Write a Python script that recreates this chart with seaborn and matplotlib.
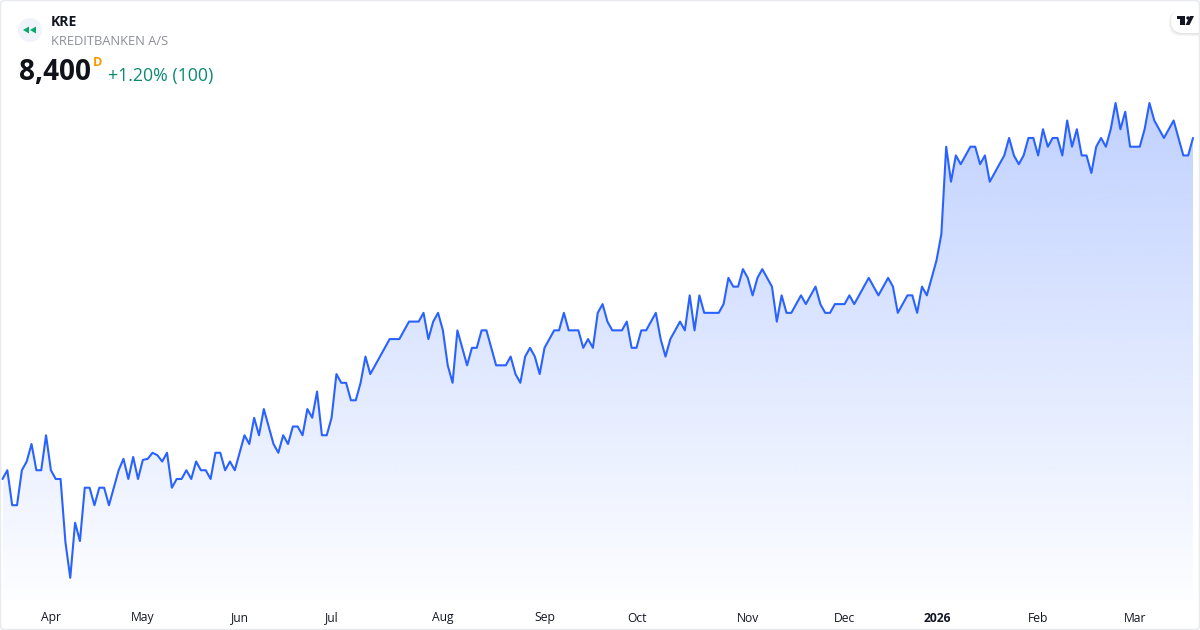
import numpy as np
import pandas as pd
import seaborn as sns
import matplotlib.pyplot as plt
from matplotlib.colors import LinearSegmentedColormap
from matplotlib.patches import Circle, FancyBboxPatch, Polygon, Rectangle

ticker = "KRE"
company = "KREDITBANKEN A/S"
last_price = "8,400"
change_text = "+1.20% (100)"

# daily closes
prices = [
    6450, 6500, 6300, 6300, 6500, 6550, 6650, 6500, 6500, 6700, 6500, 6450, 6450, 6090, 5885, 6200,
    6095, 6400, 6400, 6300, 6400, 6400, 6300, 6400, 6500, 6565, 6450, 6576, 6450, 6559, 6565, 6600,
    6586, 6550, 6600, 6400, 6450, 6450, 6500, 6450, 6550, 6500, 6500, 6450, 6600, 6600, 6500, 6550,
    6500, 6600, 6700, 6650, 6800, 6700, 6850, 6750, 6650, 6600, 6700, 6650, 6750, 6750, 6700, 6850,
    6800, 6950, 6700, 6700, 6800, 7050, 7000, 7000, 6900, 6900, 7000, 7150, 7050, 7100, 7150, 7200,
    7250, 7250, 7250, 7300, 7350, 7350, 7350, 7400, 7250, 7350, 7400, 7300, 7100, 7000, 7300, 7200,
    7100, 7200, 7200, 7300, 7300, 7200, 7100, 7100, 7100, 7150, 7050, 7000, 7150, 7200, 7150, 7050,
    7200, 7250, 7300, 7300, 7400, 7300, 7300, 7300, 7200, 7250, 7200, 7400, 7450, 7350, 7300, 7300,
    7300, 7350, 7200, 7200, 7300, 7300, 7350, 7400, 7250, 7150, 7250, 7300, 7350, 7300, 7500, 7300,
    7500, 7400, 7400, 7400, 7400, 7450, 7600, 7550, 7550, 7650, 7600, 7500, 7600, 7650, 7600, 7550,
    7350, 7500, 7400, 7400, 7450, 7500, 7450, 7500, 7550, 7450, 7400, 7400, 7450, 7450, 7450, 7500,
    7450, 7500, 7550, 7600, 7550, 7500, 7550, 7600, 7550, 7400, 7450, 7500, 7500, 7400, 7550, 7500,
    7600, 7700, 7850, 8350, 8150, 8300, 8250, 8300, 8350, 8350, 8250, 8300, 8150, 8200, 8250, 8300,
    8400, 8300, 8250, 8300, 8400, 8400, 8300, 8450, 8350, 8400, 8400, 8300, 8500, 8350, 8450, 8300,
    8300, 8200, 8350, 8400, 8350, 8450, 8600, 8450, 8550, 8350, 8350, 8350, 8450, 8600, 8500, 8450,
    8400, 8450, 8500, 8400, 8300, 8300, 8400,
]
month_labels = ["Apr", "May", "Jun", "Jul", "Aug", "Sep", "Oct", "Nov", "Dec", "2026", "Feb", "Mar"]
month_sessions = [10, 29, 49, 68, 91, 112, 131, 154, 174, 193, 214, 234]

W, H = 1200, 630
BLUE = "#2962FF"
Y_LOW, Y_HIGH = 5758, 8600

sns.set_theme(style="white")
plt.rcParams["font.family"] = ["Open Sans", "DejaVu Sans"]

df = pd.DataFrame({"session": np.arange(len(prices)), "close": prices})

fig = plt.figure(figsize=(W / 100, H / 100), dpi=100, facecolor="white")

# price pane, pixel box: x 2.5-1193, y 103-600
ax = fig.add_axes([2.5 / W, (H - 600) / H, 1190.5 / W, 497 / H])
ax.set_facecolor("none")
ax.set_xlim(0, len(prices) - 1)
ax.set_ylim(Y_LOW, Y_HIGH)

# gradient under the line, clipped to the area
area = ax.fill_between(df["session"], df["close"], Y_LOW, color="none", lw=0)
cmap = LinearSegmentedColormap.from_list("fade", [(41 / 255, 98 / 255, 1, 0.01), (41 / 255, 98 / 255, 1, 0.29)])
grad = ax.imshow(np.linspace(0, 1, 256).reshape(-1, 1), origin="lower", aspect="auto", cmap=cmap,
                 extent=[0, len(prices) - 1, Y_LOW, Y_HIGH], zorder=1)
grad.set_clip_path(area.get_paths()[0], transform=ax.transData)

sns.lineplot(data=df, x="session", y="close", ax=ax, color=BLUE, linewidth=1.5, zorder=2,
             solid_joinstyle="round", clip_on=False)
ax.set_axis_off()

# overlay in pixel coordinates for header, labels and frame
ov = fig.add_axes([0, 0, 1, 1], zorder=5)
ov.set_xlim(0, W)
ov.set_ylim(H, 0)
ov.set_axis_off()
ov.patch.set_alpha(0)

# session marker
ov.add_patch(Circle((30, 30), 12, fc="#F0F3FA", ec="none"))
ov.add_patch(Polygon([[23, 30], [29, 26.5], [29, 33.5]], fc="#0BA86B", ec="none"))
ov.add_patch(Polygon([[30, 30], [36, 26.5], [36, 33.5]], fc="#0BA86B", ec="none"))

ov.text(51, 22, ticker, fontsize=10.1, fontweight="bold", color="#131722", va="center", ha="left")
ov.text(51, 41.5, company, fontsize=9.25, color="#8C8F98", va="center", ha="left")
ov.text(19, 73, last_price, fontsize=20.1, fontweight="bold", color="#0F1218", va="center", ha="left")
ov.text(93, 62, "D", fontsize=9.2, fontweight="bold", color="#FF9800", va="center", ha="left")
ov.text(108, 76.5, change_text, fontsize=12.75, color="#0B8A72", va="center", ha="left")

# month labels placed on the price pane's x scale
for lab, pos in zip(month_labels, month_sessions):
    px = ax.transData.transform((pos, 6000))[0] + 0.3
    ov.text(px, 618, lab, fontsize=8.7, color="#131722", va="center", ha="center",
            fontweight="bold" if lab == "2026" else "normal")

# logo pill, top right
strip = Rectangle((1100, 0), 99, 60, transform=ov.transData)
for i, a in enumerate([0.03, 0.035, 0.04]):
    p = ov.add_patch(FancyBboxPatch((1171 - i, 10), 42 + i, 24 + i, boxstyle="round,pad=0,rounding_size=12",
                                    fc="black", ec="none", alpha=a))
    p.set_clip_path(strip)
p = ov.add_patch(FancyBboxPatch((1171, 9), 42, 24, boxstyle="round,pad=0,rounding_size=12", fc="white", ec="none"))
p.set_clip_path(strip)
ov.add_patch(Rectangle((1177, 16), 8, 3, fc="#131722", ec="none"))
ov.add_patch(Rectangle((1180, 16), 4.5, 9, fc="#131722", ec="none"))
ov.add_patch(Circle((1188, 18), 1.7, fc="#131722", ec="none"))
ov.add_patch(Polygon([[1190, 16], [1194, 16], [1189.5, 25], [1185.5, 25]], fc="#131722", ec="none"))

ov.add_patch(FancyBboxPatch((0.5, 0.5), W - 1, H - 1, boxstyle="round,pad=0,rounding_size=4",
                            fc="none", ec="#E8EAEE", lw=1.1))

fig.savefig("out.png", dpi=100)
